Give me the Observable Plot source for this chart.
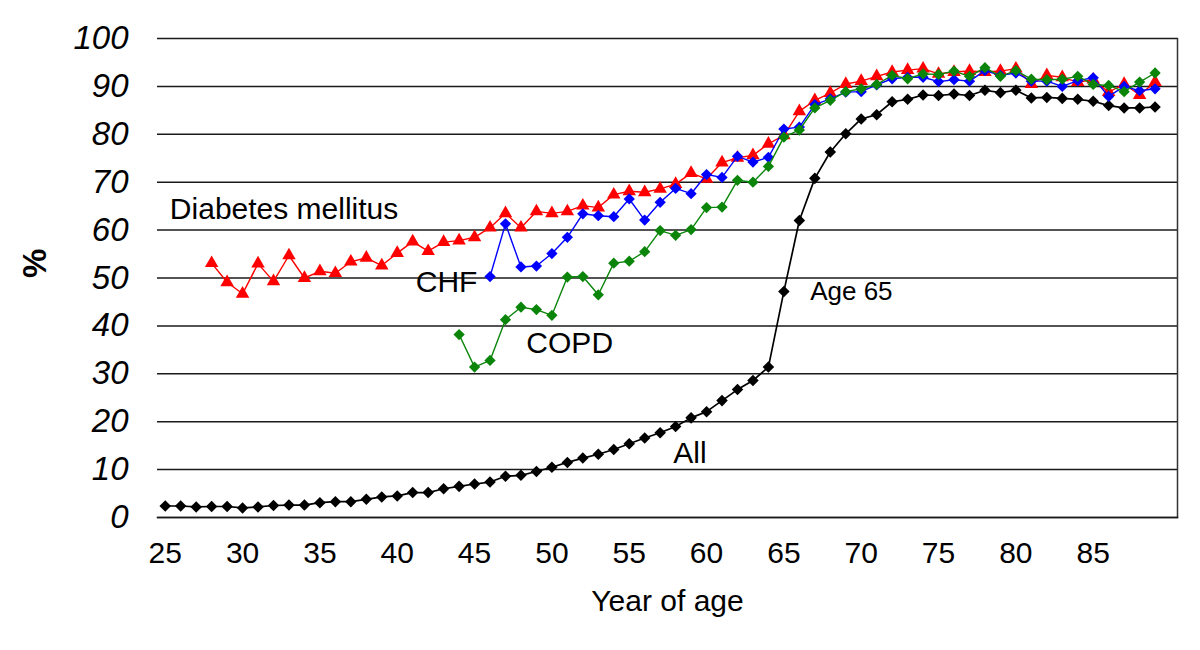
<!DOCTYPE html>
<html><head><meta charset="utf-8">
<script src="https://cdn.jsdelivr.net/npm/d3@7"></script>
<script src="https://cdn.jsdelivr.net/npm/@observablehq/plot@0.6"></script>
<style>
html,body{margin:0;padding:0;background:#fff;}
#chart svg{display:block;}
</style></head><body><div id="chart"></div>
<script>
// Ages (categories)
const agesAll = [25,26,27,28,29,30,31,32,33,34,35,36,37,38,39,40,41,42,43,44,45,46,47,48,49,50,51,52,53,54,55,56,57,58,59,60,61,62,63,64,65,66,67,68,69,70,71,72,73,74,75,76,77,78,79,80,81,82,83,84,85,86,87,88,89];
const allValues = [2.4,2.4,2.2,2.3,2.3,2.0,2.2,2.5,2.6,2.6, 3.1,3.3,3.3,3.8,4.3,4.5,5.2,5.2,6.0,6.5, 7.0,7.4,8.6,8.8,9.6,10.5,11.5,12.4,13.2,14.2, 15.4,16.6,17.7,19.0,20.8,22.1,24.4,26.7,28.6,31.4, 47.2,62.0,70.8,76.3,80.1,83.2,84.1,86.8,87.3,88.2, 88.1,88.4,88.1,89.2,88.7,89.2,87.6,87.7,87.5,87.3, 86.9,86.0,85.5,85.5,85.7];

const agesDiabetes = [28,29,30,31,32,33,34,35,36,37,38,39,40,41,42,43,44,45,46,47,48,49,50,51,52,53,54,55,56,57,58,59,60,61,62,63,64,65,66,67,68,69,70,71,72,73,74,75,76,77,78,79,80,81,82,83,84,85,86,87,88,89];
const diabetesValues = [53.1,49.1,46.7,53.0,49.3,54.7,50.0,51.4,51.0,53.4, 54.2,52.6,55.2,57.6,55.6,57.5,57.8,58.5,60.5,63.5, 60.5,63.9,63.5,63.9,65.1,64.7,67.4,68.1,67.9,68.6, 69.6,71.9,70.7,74.1,75.1,75.6,78.0,79.8,84.8,87.1, 88.6,90.5,91.1,92.1,93.0,93.4,93.7,92.6,93.0,93.2, 93.0,93.2,93.7,90.5,92.3,91.9,90.9,91.4,88.8,90.5, 88.2,90.9];

const agesCHF = [46,47,48,49,50,51,52,53,54,55,56,57,58,59,60,61,62,63,64,65,66,67,68,69,70,71,72,73,74,75,76,77,78,79,80,81,82,83,84,85,86,87,88,89];
const chfValues = [50.3,61.3,52.3,52.5,55.1,58.5,63.4,63.0,62.8,66.5, 62.1,65.8,68.7,67.6,71.6,71.0,75.4,74.2,75.2,81.1, 81.5,86.2,87.4,88.8,88.9,90.3,91.6,91.9,91.9,91.0, 91.4,91.1,93.3,92.3,92.8,91.1,91.1,90.0,91.2,91.8, 87.9,90.0,89.1,89.5];

const agesCOPD = [44,45,46,47,48,49,50,51,52,53,54,55,56,57,58,59,60,61,62,63,64,65,66,67,68,69,70,71,72,73,74,75,76,77,78,79,80,81,82,83,84,85,86,87,88,89];
const copdValues = [38.2,31.4,32.8,41.3,43.9,43.4,42.2,50.2,50.3,46.5, 53.1,53.5,55.5,59.9,58.9,60.1,64.7,64.8,70.4,70.0, 73.3,79.4,80.9,85.5,87.1,88.9,89.5,90.4,92.3,91.6, 92.6,92.5,93.2,92.1,93.9,92.1,93.3,91.5,91.4,91.5, 92.1,90.4,90.2,88.9,90.9,92.8];

const xTicks = [25,30,35,40,45,50,55,60,65,70,75,80,85];
const yTicks = [0,10,20,30,40,50,60,70,80,90,100];

const labelTexts = ["Diabetes mellitus","CHF","COPD","All","Age 65"];
const labelAges  = [25.3, 41.2, 48.35, 57.85, 66.7];
const labelPcts  = [64.3, 49.0, 36.3, 13.3, 47.2];

const toRows = (ages, vals) => ages.map((a, i) => ({age: a, pct: vals[i]}));
const allRows = toRows(agesAll, allValues);
const diaRows = toRows(agesDiabetes, diabetesValues);
const chfRows = toRows(agesCHF, chfValues);
const copdRows = toRows(agesCOPD, copdValues);
const labelRows = labelTexts.map((t, i) => ({text: t, age: labelAges[i], pct: labelPcts[i], size: t === "Age 65" ? 26 : 30}));

const diamond = {
  draw(ctx, size) {
    const s = Math.sqrt(size / 2);
    ctx.moveTo(0, -s); ctx.lineTo(s, 0); ctx.lineTo(0, s); ctx.lineTo(-s, 0); ctx.closePath();
  }
};

const RED = "#ff0000", BLUE = "#0000ff", GREEN = "#0a850a", BLACK = "#000000";

const series = (rows, color, symbol, r, sw) => [
  Plot.line(rows, {x: "age", y: "pct", stroke: color, strokeWidth: sw}),
  Plot.dot(rows, {x: "age", y: "pct", fill: color, symbol, r})
];

const chart = Plot.plot({
  width: 1200, height: 650,
  marginLeft: 157, marginRight: 23, marginTop: 38, marginBottom: 133,
  style: {fontFamily: 'Arial, "Liberation Sans", sans-serif', background: "#fff", color: "#000"},
  x: {domain: [24.5, 90.45]},
  y: {domain: [0, 100]},
  marks: [
    Plot.ruleY(yTicks, {stroke: "#1a1a1a", strokeWidth: 1.5}),
    Plot.frame({anchor: "right", stroke: "#333", strokeWidth: 1.5}),
    Plot.frame({anchor: "bottom", stroke: "#1a1a1a", strokeWidth: 1.5}),
    Plot.axisX({ticks: xTicks, tickSize: 0, tickPadding: 24, fontSize: 30, label: null}),
    Plot.axisY({ticks: yTicks, tickSize: 0, tickPadding: 29, fontSize: 33, fontStyle: "italic", label: null}),
    ...series(allRows, BLACK, diamond, 4.6, 1.7),
    ...series(diaRows, RED, "triangle", 5, 1.4),
    ...series(chfRows, BLUE, diamond, 4.5, 1.4),
    ...series(copdRows, GREEN, diamond, 4.5, 1.4),
    Plot.text(labelRows, {x: "age", y: "pct", text: "text", textAnchor: "start", fontSize: d => d.size, fill: "#000"}),
    Plot.text(["%"], {text: d => d, frameAnchor: "left", dx: -122, rotate: -90, fontWeight: "bold", fontSize: 33, fill: "#000"}),
    Plot.text(["Year of age"], {text: d => d, frameAnchor: "bottom", dy: 93, fontSize: 30, fill: "#000"})
  ]
});
document.getElementById("chart").appendChild(chart);
</script>
</body></html>
